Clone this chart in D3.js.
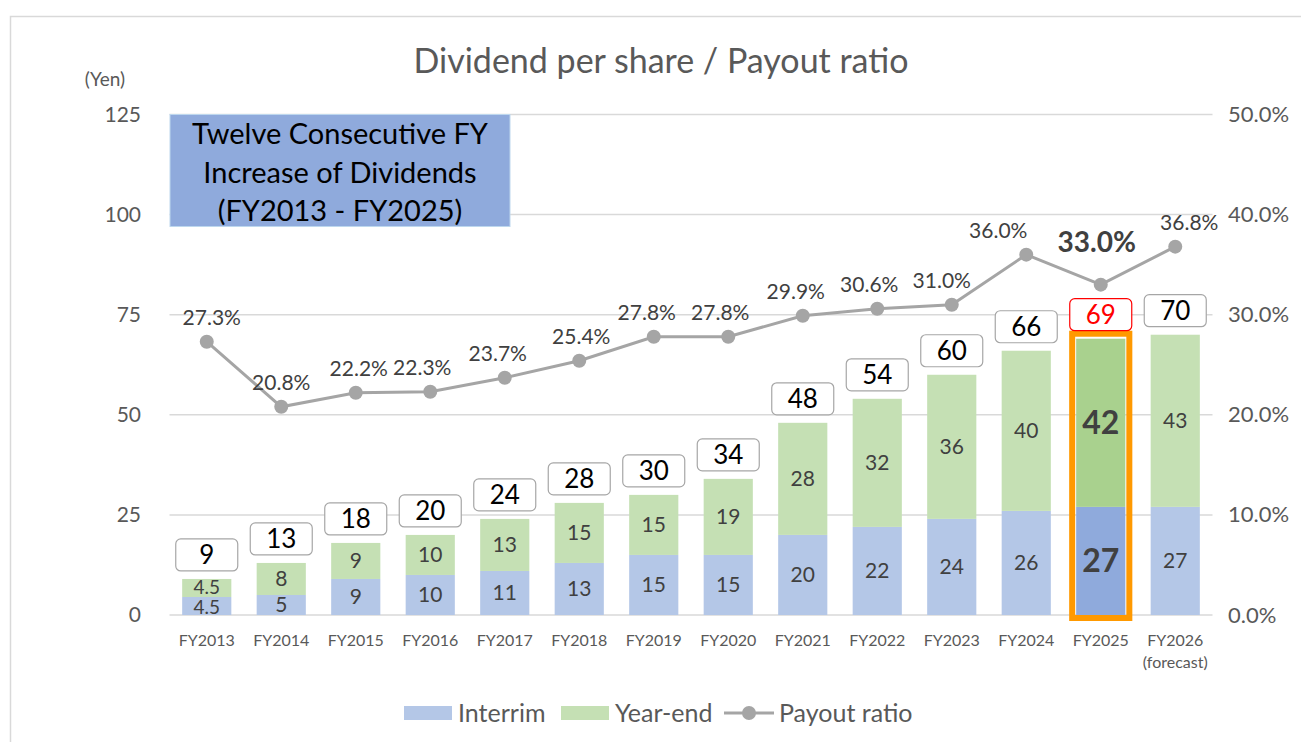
<!DOCTYPE html>
<html>
<head>
<meta charset="utf-8">
<script src="https://cdn.jsdelivr.net/npm/d3@7"></script>
<style>
  body { margin: 0; background: #fff; }
  text { font-family: Lato, "Open Sans", sans-serif; }
</style>
</head>
<body>
<script>
// dividend chart

var years = ["FY2013","FY2014","FY2015","FY2016","FY2017","FY2018","FY2019","FY2020","FY2021","FY2022","FY2023","FY2024","FY2025","FY2026"];
var interim = [4.5, 5, 9, 10, 11, 13, 15, 15, 20, 22, 24, 26, 27, 27];
var yearEnd = [4.5, 8, 9, 10, 13, 15, 15, 19, 28, 32, 36, 40, 42, 43];
var totals = [9, 13, 18, 20, 24, 28, 30, 34, 48, 54, 60, 66, 69, 70];
var payout = [27.3, 20.8, 22.2, 22.3, 23.7, 25.4, 27.8, 27.8, 29.9, 30.6, 31.0, 36.0, 33.0, 36.8];
var leftTicks = [0, 25, 50, 75, 100, 125];
var rightTicks = [0, 10, 20, 30, 40, 50];
// label nudges for the payout labels (px)
var payoutNudge = [5, 0, 3, -8, -7, 2, -7, -8, -7, -8, -10, -28, -4, 14];
var highlight = "FY2025";

var width = 1301,
	height = 742;

var svg = d3.select('body').append('svg')
	.attr('width', width)
	.attr('height', height);

// outer frame
svg.append('rect')
	.attr('x', 10.5).attr('y', 16.5)
	.attr('width', 1300).attr('height', 740)
	.attr('fill', 'none')
	.attr('stroke', '#d9d9d9')
	.attr('stroke-width', 1.5);

var x = d3.scaleBand()
	.domain(years)
	.range([169.5, 1212.5])
	.paddingInner(0.34)
	.paddingOuter(0.17);

var y = d3.scaleLinear()
	.domain([0, 125])
	.range([615, 114.5]);

var y2 = d3.scaleLinear()
	.domain([0, 50])
	.range([615, 114.5]);

// title
svg.append('text')
	.attr('x', 661).attr('y', 73)
	.attr('text-anchor', 'middle')
	.attr('font-size', 34)
	.attr('fill', '#595959')
	.text('Dividend per share / Payout ratio');

svg.append('text')
	.attr('x', 105).attr('y', 86)
	.attr('text-anchor', 'middle')
	.attr('font-size', 19)
	.attr('fill', '#595959')
	.text('(Yen)');

// gridlines
svg.selectAll('.grid')
	.data(leftTicks)
	.enter().append('line').classed('grid', true)
	.attr('x1', 169.5).attr('x2', 1212.5)
	.attr('y1', function(d){ return y(d); })
	.attr('y2', function(d){ return y(d); })
	.attr('stroke', '#d9d9d9')
	.attr('stroke-width', 1.5);

// left axis labels
var yAxis = d3.axisLeft(y).tickValues(leftTicks).tickSize(0).tickPadding(0);
var gy = svg.append('g').attr('transform', 'translate(141,0)').call(yAxis);
gy.select('.domain').remove();
gy.selectAll('text').attr('font-size', 21).attr('fill', '#595959').attr('font-family', 'Lato, "Open Sans", sans-serif');

// right axis labels
var yAxis2 = d3.axisRight(y2).tickValues(rightTicks).tickSize(0).tickPadding(0)
	.tickFormat(function(d){ return d.toFixed(1) + '%'; });
var gy2 = svg.append('g').attr('transform', 'translate(1228,0)').call(yAxis2);
gy2.select('.domain').remove();
gy2.selectAll('text').attr('font-size', 22).attr('fill', '#595959').attr('font-family', 'Lato, "Open Sans", sans-serif');

// x labels
svg.selectAll('.xlab')
	.data(years)
	.enter().append('text').classed('xlab', true)
	.attr('x', function(d){ return x(d) + x.bandwidth()/2; })
	.attr('y', 646)
	.attr('text-anchor', 'middle')
	.attr('font-size', 16)
	.attr('fill', '#595959')
	.text(function(d){ return d; });
svg.append('text')
	.attr('x', x("FY2026") + x.bandwidth()/2)
	.attr('y', 668)
	.attr('text-anchor', 'middle')
	.attr('font-size', 16)
	.attr('fill', '#595959')
	.text('(forecast)');

// stacked bars
var rows = years.map(function(d, i){
	return { year: d, interim: interim[i], yearEnd: yearEnd[i], total: totals[i] };
});

var cols = {
	interim: ['#b4c7e7', '#8faadc'],
	yearEnd: ['#c5e0b4', '#a9d18e']
};

rows.forEach(function(r){
	var hi = r.year === highlight ? 1 : 0;
	var bx = x(r.year), bw = x.bandwidth(), cx = bx + bw/2;

	svg.append('rect')
		.attr('x', bx).attr('width', bw)
		.attr('y', y(r.interim))
		.attr('height', y(0) - y(r.interim))
		.attr('fill', cols.interim[hi]);
	svg.append('rect')
		.attr('x', bx).attr('width', bw)
		.attr('y', y(r.interim + r.yearEnd))
		.attr('height', y(r.interim) - y(r.interim + r.yearEnd))
		.attr('fill', cols.yearEnd[hi]);

	// segment labels
	var fs = hi ? 32 : 21;
	var small = r.interim < 5;   // FY2013 segments are tiny
	svg.append('text')
		.attr('x', cx).attr('y', (y(0) + y(r.interim))/2 + (small ? 1 : 0))
		.attr('dy', '0.35em')
		.attr('text-anchor', 'middle')
		.attr('font-size', small ? 19 : fs)
		.attr('font-weight', hi ? 'bold' : 'normal')
		.attr('fill', '#404040')
		.text(r.interim);
	svg.append('text')
		.attr('x', cx).attr('y', (y(r.interim) + y(r.interim + r.yearEnd))/2 - (small ? 1 : 0))
		.attr('dy', '0.35em')
		.attr('text-anchor', 'middle')
		.attr('font-size', small ? 19 : fs)
		.attr('font-weight', hi ? 'bold' : 'normal')
		.attr('fill', '#404040')
		.text(r.yearEnd);

	if (hi) {
		svg.append('rect')
			.attr('x', bx - 4).attr('width', bw + 8)
			.attr('y', y(r.total) - 5)
			.attr('height', y(0) - y(r.total) + 8)
			.attr('fill', 'none')
			.attr('stroke', '#ff9900')
			.attr('stroke-width', 6);
	}

	// total box
	var ty = y(r.total) - 24;
	svg.append('rect')
		.attr('x', cx - 31).attr('y', ty - 16)
		.attr('width', 62).attr('height', 32)
		.attr('rx', 5)
		.attr('fill', '#fff')
		.attr('stroke', hi ? '#ff0000' : '#a6a6a6')
		.attr('stroke-width', 1.2);
	svg.append('text')
		.attr('x', cx).attr('y', ty)
		.attr('dy', '0.36em')
		.attr('text-anchor', 'middle')
		.attr('font-size', 26)
		.attr('fill', hi ? '#ff0000' : '#000')
		.text(r.total);
});

// payout line
var line = d3.line()
	.x(function(d, i){ return x(years[i]) + x.bandwidth()/2; })
	.y(function(d){ return y2(d); });

svg.append('path')
	.datum(payout)
	.attr('d', line)
	.attr('fill', 'none')
	.attr('stroke', '#a5a5a5')
	.attr('stroke-width', 3);

svg.selectAll('.dot')
	.data(payout)
	.enter().append('circle').classed('dot', true)
	.attr('cx', function(d, i){ return x(years[i]) + x.bandwidth()/2; })
	.attr('cy', function(d){ return y2(d); })
	.attr('r', 7)
	.attr('fill', '#a5a5a5');

svg.selectAll('.plab')
	.data(payout)
	.enter().append('text').classed('plab', true)
	.attr('x', function(d, i){ return x(years[i]) + x.bandwidth()/2 + payoutNudge[i]; })
	.attr('y', function(d, i){ return y2(d) - (years[i] === highlight ? 33 : 17); })
	.attr('text-anchor', 'middle')
	.attr('font-size', function(d, i){ return years[i] === highlight ? 28 : 21; })
	.attr('font-weight', function(d, i){ return years[i] === highlight ? 'bold' : 'normal'; })
	.attr('fill', '#404040')
	.text(function(d){ return d.toFixed(1) + '%'; });

// callout box
svg.append('rect')
	.attr('x', 170).attr('y', 114.5)
	.attr('width', 340).attr('height', 112)
	.attr('fill', '#8faadc')
	.attr('stroke', '#bdd7ee')
	.attr('stroke-width', 1);
var callout = ['Twelve Consecutive FY', 'Increase of Dividends', '(FY2013 - FY2025)'];
svg.selectAll('.callout')
	.data(callout)
	.enter().append('text').classed('callout', true)
	.attr('x', 340)
	.attr('y', function(d, i){ return 144 + i * 38.5; })
	.attr('text-anchor', 'middle')
	.attr('font-size', 29)
	.attr('fill', '#000')
	.text(function(d){ return d; });

// legend
var legend = svg.append('g').attr('transform', 'translate(0,713)');
legend.append('rect').attr('x', 404).attr('y', -7).attr('width', 48).attr('height', 14).attr('fill', '#b4c7e7');
legend.append('text').attr('x', 458).attr('y', 0).attr('dy', '0.35em').attr('font-size', 25).attr('fill', '#595959').text('Interrim');
legend.append('rect').attr('x', 561).attr('y', -7).attr('width', 48).attr('height', 14).attr('fill', '#c5e0b4');
legend.append('text').attr('x', 615).attr('y', 0).attr('dy', '0.35em').attr('font-size', 25).attr('fill', '#595959').text('Year-end');
legend.append('line').attr('x1', 724).attr('x2', 774).attr('y1', 0).attr('y2', 0).attr('stroke', '#a5a5a5').attr('stroke-width', 3);
legend.append('circle').attr('cx', 749).attr('cy', 0).attr('r', 7).attr('fill', '#a5a5a5');
legend.append('text').attr('x', 779).attr('y', 0).attr('dy', '0.35em').attr('font-size', 25).attr('fill', '#595959').text('Payout ratio');
</script>
</body>
</html>
